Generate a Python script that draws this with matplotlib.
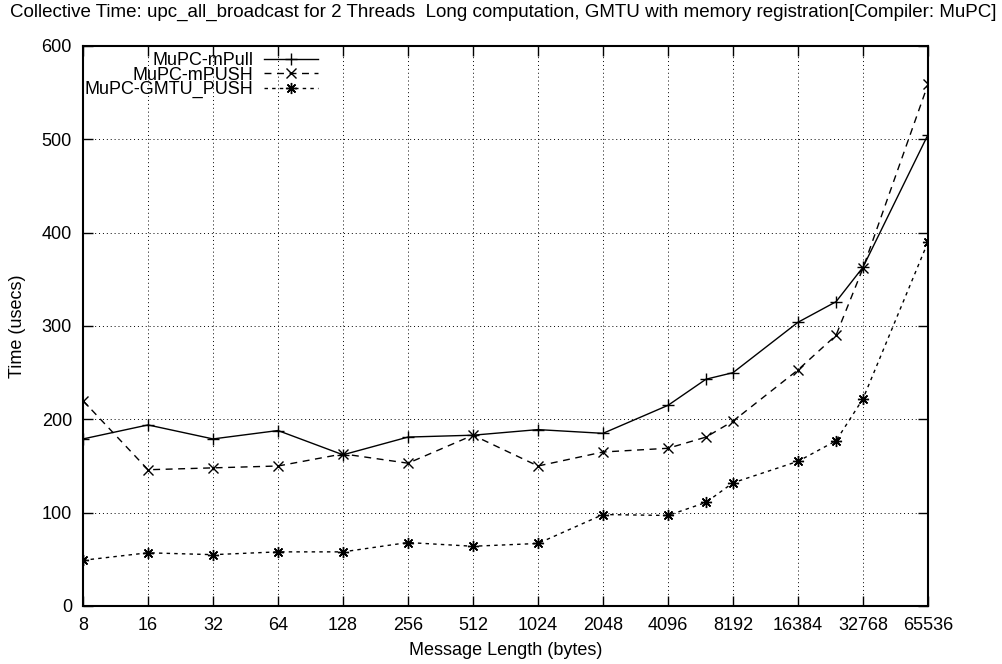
import matplotlib
matplotlib.use("Agg")
import matplotlib.pyplot as plt

plt.rcParams["font.family"] = ["Liberation Sans", "DejaVu Sans"]

# message sizes (bytes), incl. the in-between sizes measured
sizes = [8, 16, 32, 64, 128, 256, 512, 1024, 2048, 4096, 6144, 8192,
         16384, 24576, 32768, 65536]
mpull = [179, 194, 179, 188, 162, 181, 183, 189, 185, 215, 243, 250,
         304, 326, 363, 505]
mpush = [220, 146, 148, 150, 163, 153, 183, 150, 165, 169, 181, 198,
         253, 290, 362, 559]
gmtu_push = [49, 57, 55, 58, 58, 68, 64, 67, 98, 97, 111, 132,
             155, 177, 222, 390]

xticks = [8, 16, 32, 64, 128, 256, 512, 1024, 2048, 4096, 8192, 16384,
          32768, 65536]
yticks = [0, 100, 200, 300, 400, 500, 600]

TITLE = ("Collective Time: upc_all_broadcast for 2 Threads  Long computation, "
         "GMTU with memory registration[Compiler: MuPC]")

fig = plt.figure(figsize=(10.03, 6.64), dpi=100)
ax = fig.add_axes([83 / 1003, 58 / 664, 845 / 1003, 560 / 664])

fs = 13
ax.plot(sizes, mpull, color="black", lw=1, ls="-", marker="+", ms=8,
        mew=1, label="MuPC-mPull")
ax.plot(sizes, mpush, color="black", lw=1, ls=(0, (5, 4)), marker="x", ms=7,
        mew=1, label="MuPC-mPUSH")
ax.plot(sizes, gmtu_push, color="black", lw=1, ls=(0, (2.5, 3)),
        marker=(8, 2, 0), ms=8, mew=1, label="MuPC-GMTU_PUSH")

ax.set_xscale("log", base=2)
ax.set_xlim(8, 65536)
ax.set_ylim(0, 600)
ax.set_xticks(xticks)
ax.set_xticklabels([str(v) for v in xticks])
ax.set_yticks(yticks)
ax.minorticks_off()
ax.tick_params(direction="in", length=7, width=1, top=True, right=True,
               labelsize=fs, pad=8)
ax.grid(True, color="black", ls=(0, (1, 3)), lw=0.7)
for s in ax.spines.values():
    s.set_linewidth(1.5)

ax.set_xlabel("Message Length (bytes)", fontsize=fs, labelpad=6)
ax.set_ylabel("Time (usecs)", fontsize=fs)
ax.yaxis.set_label_coords(-0.067, 0.5)
fig.text(0.502, 1 - 12 / 664, TITLE, ha="center", va="center", fontsize=13.5)

leg = ax.legend(loc="upper right", bbox_to_anchor=(318 / 1003, 1 - 52 / 664),
                bbox_transform=fig.transFigure, frameon=False, markerfirst=False,
                fontsize=fs, handlelength=3.0, handletextpad=0.6,
                labelspacing=-0.13, borderpad=0, borderaxespad=0)

fig.savefig("out.png", dpi=100)
